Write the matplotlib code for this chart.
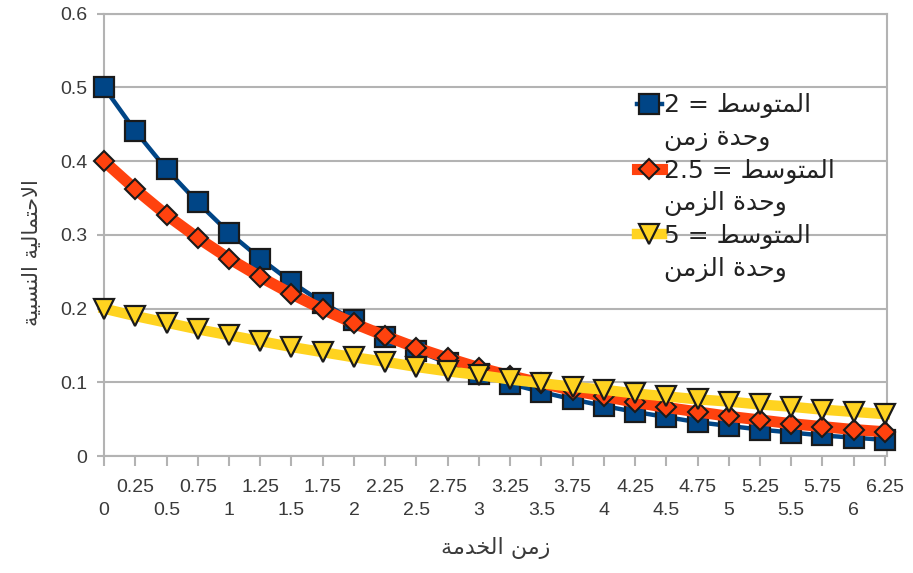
import matplotlib.pyplot as plt
from matplotlib.lines import Line2D

# service time categories (x axis)
t_labels = ['0', '0.25', '0.5', '0.75', '1', '1.25', '1.5', '1.75', '2', '2.25',
            '2.5', '2.75', '3', '3.25', '3.5', '3.75', '4', '4.25', '4.5', '4.75',
            '5', '5.25', '5.5', '5.75', '6', '6.25']

# relative probability for each mean
mean_2 = [0.500, 0.441, 0.389, 0.344, 0.303, 0.268, 0.236, 0.208, 0.184, 0.162,
          0.143, 0.126, 0.112, 0.098, 0.087, 0.077, 0.068, 0.060, 0.053, 0.046,
          0.041, 0.036, 0.032, 0.028, 0.025, 0.022]
mean_2_5 = [0.400, 0.362, 0.327, 0.296, 0.268, 0.243, 0.220, 0.199, 0.180, 0.163,
            0.147, 0.133, 0.120, 0.109, 0.099, 0.089, 0.081, 0.073, 0.066, 0.060,
            0.054, 0.049, 0.044, 0.040, 0.036, 0.033]
mean_5 = [0.200, 0.190, 0.181, 0.172, 0.164, 0.156, 0.148, 0.141, 0.134, 0.128,
          0.121, 0.115, 0.110, 0.104, 0.099, 0.094, 0.090, 0.085, 0.081, 0.077,
          0.074, 0.070, 0.067, 0.063, 0.060, 0.057]

legend_lines = [('المتوسط = 2', 'وحدة زمن'),
                ('المتوسط = 2.5', 'وحدة الزمن'),
                ('المتوسط = 5', 'وحدة الزمن')]
x_title = 'زمن الخدمة'
y_title = 'الاحتمالية النسبية'

# matplotlib has no arabic shaping, so do a small one by hand
# (isolated, final, initial, medial); None -> letter does not join forward
FORMS = {
    'ا': ('\ufe8d', '\ufe8e', None, None),
    'ب': ('\ufe8f', '\ufe90', '\ufe91', '\ufe92'),
    'ة': ('\ufe93', '\ufe94', None, None),
    'ت': ('\ufe95', '\ufe96', '\ufe97', '\ufe98'),
    'ح': ('\ufea1', '\ufea2', '\ufea3', '\ufea4'),
    'خ': ('\ufea5', '\ufea6', '\ufea7', '\ufea8'),
    'د': ('\ufea9', '\ufeaa', None, None),
    'ز': ('\ufeaf', '\ufeb0', None, None),
    'س': ('\ufeb1', '\ufeb2', '\ufeb3', '\ufeb4'),
    'ط': ('\ufec1', '\ufec2', '\ufec3', '\ufec4'),
    'ل': ('\ufedd', '\ufede', '\ufedf', '\ufee0'),
    'م': ('\ufee1', '\ufee2', '\ufee3', '\ufee4'),
    'ن': ('\ufee5', '\ufee6', '\ufee7', '\ufee8'),
    'و': ('\ufeed', '\ufeee', None, None),
    'ي': ('\ufef1', '\ufef2', '\ufef3', '\ufef4'),
}


def shape_word(word):
    out = []
    prev_joins = False
    i = 0
    while i < len(word):
        c = word[i]
        if c == 'ل' and i + 1 < len(word) and word[i + 1] == 'ا':
            out.append('\ufefc' if prev_joins else '\ufefb')
            prev_joins = False
            i += 2
            continue
        f = FORMS[c]
        dual = f[2] is not None
        next_joins = dual and i + 1 < len(word) and word[i + 1] in FORMS
        if prev_joins and next_joins:
            g = f[3]
        elif prev_joins:
            g = f[1]
        elif next_joins:
            g = f[2]
        else:
            g = f[0]
        out.append(g)
        prev_joins = dual
        i += 1
    return ''.join(reversed(out))


def rtl(s):
    toks = []
    for tok in reversed(s.split(' ')):
        if any(ch in FORMS for ch in tok):
            toks.append(shape_word(tok))
        else:
            toks.append(tok)
    return ' '.join(toks)


fig = plt.figure(figsize=(9.13, 5.73), dpi=100)
ax = fig.add_axes([0.114, 0.204, 0.857, 0.772])

x = list(range(len(t_labels)))
grey = '#b3b3b3'
tick_font = ['Liberation Sans', 'DejaVu Sans']

l1, = ax.plot(x, mean_2, color='#004586', lw=3.2, marker='s', ms=15,
              mfc='#004586', mec='#1a1a1a', mew=1.6, clip_on=False, zorder=3)
l2, = ax.plot(x, mean_2_5, color='#ff420e', lw=8, marker='D', ms=10,
              mfc='#ff420e', mec='#1a1a1a', mew=1.5, clip_on=False, zorder=4)
l3, = ax.plot(x, mean_5, color='#ffd320', lw=7.5, marker='v', ms=15,
              mfc='#ffd320', mec='#1a1a1a', mew=1.6, clip_on=False, zorder=5)

ax.set_xlim(0, 25.05)
ax.set_ylim(0, 0.6)
ax.set_yticks([0, 0.1, 0.2, 0.3, 0.4, 0.5, 0.6])
ax.set_yticklabels(['0', '0.1', '0.2', '0.3', '0.4', '0.5', '0.6'],
                   family=tick_font, fontsize=14)
ax.grid(axis='y', color=grey, lw=1.5)
ax.set_axisbelow(True)
for s in ax.spines.values():
    s.set_color(grey)
    s.set_linewidth(1.5)
ax.tick_params(axis='y', color=grey, length=5, width=1.5, pad=7, labelcolor='#3a3a3a')

# staggered x labels: even on the lower row, odd on the upper row
ax.set_xticks(x[0::2])
ax.set_xticklabels(t_labels[0::2], family=tick_font, fontsize=14)
ax.set_xticks(x[1::2], minor=True)
ax.set_xticklabels(t_labels[1::2], minor=True, family=tick_font, fontsize=14)
ax.tick_params(axis='x', which='major', color=grey, length=7, width=1.5, pad=26, labelcolor='#3a3a3a')
ax.tick_params(axis='x', which='minor', color=grey, length=7, width=1.5, pad=9.5, labelcolor='#3a3a3a')

ax.set_xlabel(rtl(x_title), family='DejaVu Sans', fontsize=16, labelpad=13, color='#3a3a3a')
ax.set_ylabel(rtl(y_title), family='DejaVu Sans', fontsize=15, color='#3a3a3a')
ax.yaxis.set_label_coords(-0.079, 0.46)

blank = Line2D([], [], linestyle='none')
handles = [l1, blank, l2, blank, l3, blank]
labels = []
for first, second in legend_lines:
    labels.append(rtl(first))
    labels.append(rtl(second))
leg = ax.legend(handles, labels, loc='upper left', bbox_to_anchor=(624 / 913, 1 - 81 / 573),
                bbox_transform=fig.transFigure, frameon=False, handlelength=1.0,
                handletextpad=0.1, labelspacing=0.30, borderpad=0,
                prop={'family': 'DejaVu Sans', 'size': 18})
for txt in leg.get_texts():
    txt.set_color('#222222')

fig.savefig('out.png', dpi=100)
